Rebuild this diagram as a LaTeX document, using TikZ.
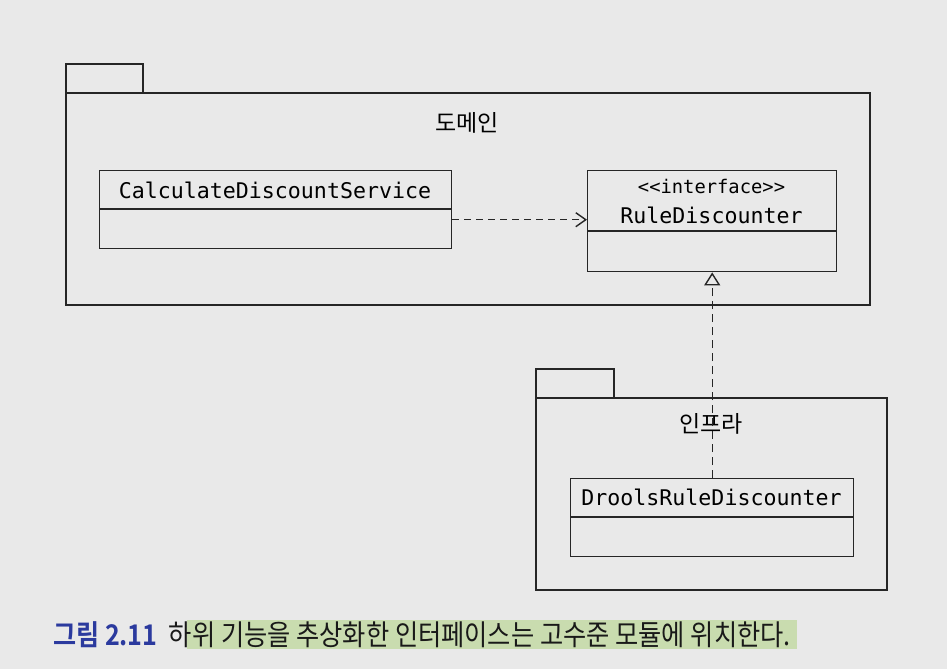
\documentclass[tikz,border=0pt]{standalone}
\usepackage{fontspec}
\setmonofont{DejaVu Sans Mono}
\newfontfamily\kofont{Noto Sans CJK KR}
\newfontfamily\kocapfont[FakeStretch=0.88]{Noto Sans CJK KR}
\newfontfamily\kocapbold[FakeStretch=0.88]{Noto Sans CJK KR Bold}
\usepackage{tikz}
\usetikzlibrary{arrows.meta}
\usetikzlibrary{positioning}

\definecolor{paper}{HTML}{E9E9E9}
\definecolor{capblue}{HTML}{2B3A9E}
\definecolor{capgreen}{HTML}{C9DCAF}

\begin{document}
\begin{tikzpicture}[x=1pt, y=-1pt,
    umlline/.style={line width=1.4pt, black!85},
    classbox/.style={draw, umlline, rectangle, inner sep=0pt, anchor=north west},
    classname/.style={font=\ttfamily\fontsize{21.6}{24}\selectfont, inner sep=0pt},
    stereo/.style={font=\ttfamily\fontsize{18.8}{21}\selectfont, inner sep=0pt},
    pkglabel/.style={font=\kofont\fontsize{23}{26}\selectfont, inner sep=0pt},
    dep/.style={umlline, dash pattern=on 7pt off 5pt, -{Straight Barb[length=10pt, width=14pt, line width=1.4pt]}},
    realize/.style={umlline, dash pattern=on 8pt off 5pt, -{Triangle[open, length=13pt, width=16pt, line width=1.4pt]}},
    caption/.style={anchor=base west, inner sep=0pt}]
    \useasboundingbox[fill=paper] (0,0) rectangle (947,669);

    % Packages
    \draw[umlline] (66,93) rectangle (870,305);
    \draw[umlline] (66,93) -- (66,64) -- (143,64) -- (143,93);
    \node[pkglabel] (domain) at (467,123) {도메인};

    \draw[umlline] (536,398) rectangle (887,590);
    \draw[umlline] (536,398) -- (536,369) -- (614,369) -- (614,398);
    \node[pkglabel] (infra) at (711,424) {인프라};

    % Classes
    \node[classbox, minimum width=352pt, minimum height=78pt] (cds) at (99,170) {};
    \draw[umlline] (cds.west |- 0,209) -- (cds.east |- 0,209);
    \node[classname] (cdsname) at (275,190) {CalculateDiscountService};

    \node[classbox, minimum width=249pt, minimum height=101pt] (rd) at (587,170) {};
    \draw[umlline] (rd.west |- 0,231) -- (rd.east |- 0,231);
    \node[stereo] (rdstereo) at (711.5,186) {<<interface>>};
    \node[classname] (rdname) at (711.5,215) {RuleDiscounter};

    \node[classbox, minimum width=283pt, minimum height=78pt] (drd) at (570,478) {};
    \draw[umlline] (drd.west |- 0,517) -- (drd.east |- 0,517);
    \node[classname] (drdname) at (711.5,497) {DroolsRuleDiscounter};

    % Relations
    \draw[dep] ([yshift=-10pt]cds.east) -- ([yshift=-10pt]cds.east -| rd.west);
    \draw[realize] (drd.north) -- (rd.south);

    % Caption
    \fill[capgreen] (187,620) rectangle (797,649);
    \node[caption, font=\kocapbold\fontsize{28.5}{31}\selectfont, text=capblue] (capnum) at (53,645) {그림 2.11};
    \node[caption, font=\kocapfont\fontsize{28.7}{31}\selectfont, text=black!90] (captext) at ([xshift=11pt]capnum.base east) {하위 기능을 추상화한 인터페이스는 고수준 모듈에 위치한다.};
\end{tikzpicture}
\end{document}
